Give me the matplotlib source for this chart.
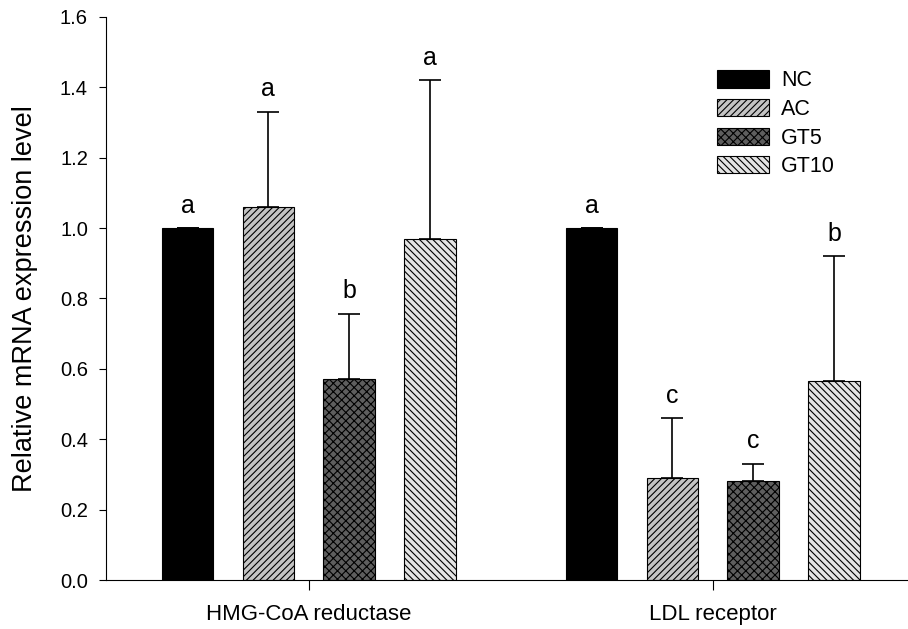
import numpy as np
import matplotlib.pyplot as plt

plt.rcParams['font.family'] = ['Liberation Sans', 'DejaVu Sans']
plt.rcParams['hatch.linewidth'] = 0.8

genes = ["HMG-CoA reductase", "LDL receptor"]
groups = ["NC", "AC", "GT5", "GT10"]
means = {
    "NC": [1.0, 1.0],
    "AC": [1.06, 0.29],
    "GT5": [0.57, 0.28],
    "GT10": [0.97, 0.565],
}
err_top = {
    "NC": [1.0, 1.0],
    "AC": [1.33, 0.46],
    "GT5": [0.757, 0.33],
    "GT10": [1.42, 0.92],
}
letters = {
    "NC": ["a", "a"],
    "AC": ["a", "c"],
    "GT5": ["b", "c"],
    "GT10": ["a", "b"],
}

colors = ["black", "#c4c4c4", "#5e5e5e", "#e4e4e4"]
hatches = [None, "/////", "xxxx", "\\\\\\\\\\"]

fig = plt.figure(figsize=(9.08, 6.29), dpi=100)
ax = fig.add_axes([0.1167, 0.0779, 0.8833, 0.8951])

x = np.arange(len(genes))
width = 0.128
offsets = [-0.3, -0.1, 0.1, 0.3]

for i, g in enumerate(groups):
    m = np.array(means[g])
    up = np.array(err_top[g]) - m
    xs = x + offsets[i]
    ax.bar(xs, m, width, color=colors[i], edgecolor="black", linewidth=0.8,
           hatch=hatches[i], label=g, zorder=2)
    ax.errorbar(xs, m, yerr=[np.zeros_like(up), up], fmt="none", ecolor="black",
                elinewidth=1.2, capsize=8, capthick=1.2, zorder=3)
    for xi, top, lab in zip(xs, err_top[g], letters[g]):
        ax.text(xi, top + 0.03, lab, ha="center", va="bottom", fontsize=18)

ax.set_xlim(-0.502, 1.483)
ax.set_ylim(0, 1.6)
ax.set_yticks(np.arange(0, 1.61, 0.2))
ax.set_yticklabels([f"{v:.1f}" for v in np.arange(0, 1.61, 0.2)], fontsize=14.5)
ax.set_xticks(x)
ax.set_xticklabels(genes, fontsize=16, family=["Liberation Sans Narrow", "Liberation Sans"])
ax.tick_params(axis="x", length=7, pad=10)
ax.tick_params(axis="y", length=5, pad=8)
ax.set_ylabel("Relative mRNA expression level", fontsize=19.5, labelpad=16)

for s in ["top", "right"]:
    ax.spines[s].set_visible(False)

ax.legend(loc="upper left", bbox_to_anchor=(0.762, 0.905), frameon=False, fontsize=15.5,
          handlelength=2.42, handleheight=0.84, labelspacing=0.35, handletextpad=0.55,
          borderpad=0, borderaxespad=0)

fig.savefig("out.png", dpi=100)
